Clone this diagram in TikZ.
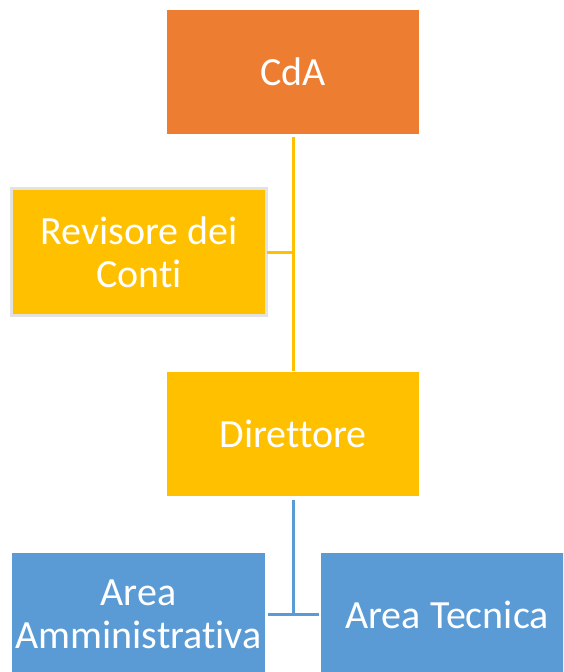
\documentclass[tikz,border=0pt]{standalone}
\usepackage{fontspec}
\setmainfont[Ligatures=NoCommon]{Carlito}
\definecolor{cdaorange}{HTML}{ED7D31}
\definecolor{yel}{HTML}{FFC000}
\definecolor{blu}{HTML}{5B9BD5}
\definecolor{edgegray}{HTML}{E2E2E2}
\begin{document}
\begin{tikzpicture}[x=1pt,y=-1pt,
  box/.style={rectangle,outer sep=0pt,inner sep=0pt,align=center,text=white,
    font=\fontsize{40}{43}\selectfont},
  yline/.style={draw=yel,line width=3pt},
  bline/.style={draw=blu,line width=3pt}]
\clip (0,0) rectangle (563,672);
\fill[white] (0,0) rectangle (563,672);
\node[box,fill=cdaorange,minimum width=252pt,minimum height=124pt] (cda) at (293,71.5) {CdA};
\node[box,fill=yel,draw=edgegray,line width=3pt,minimum width=255pt,minimum height=127pt] (rev) at (139,252) {Revisore dei\\Conti};
\node[box,fill=yel,minimum width=252pt,minimum height=124pt] (dir) at (293,434) {Direttore};
\node[box,fill=blu,minimum width=253pt,minimum height=123pt] (amm) at (138.5,614.5) {Area\\Amministrativa};
\node[box,fill=blu,minimum width=252pt,minimum height=123pt] (tec) at (447,614.5) {Area Tecnica};
\draw[yline] ([yshift=-3pt]cda.south) -- ([yshift=1pt]dir.north);
\draw[yline] (rev.east) -- (rev.east -| cda.south);
\draw[bline] ([yshift=-4pt]dir.south) -- (dir.south |- amm.east);
\draw[bline] ([xshift=3pt]amm.east) -- ([xshift=-2pt]tec.west);
\end{tikzpicture}
\end{document}
